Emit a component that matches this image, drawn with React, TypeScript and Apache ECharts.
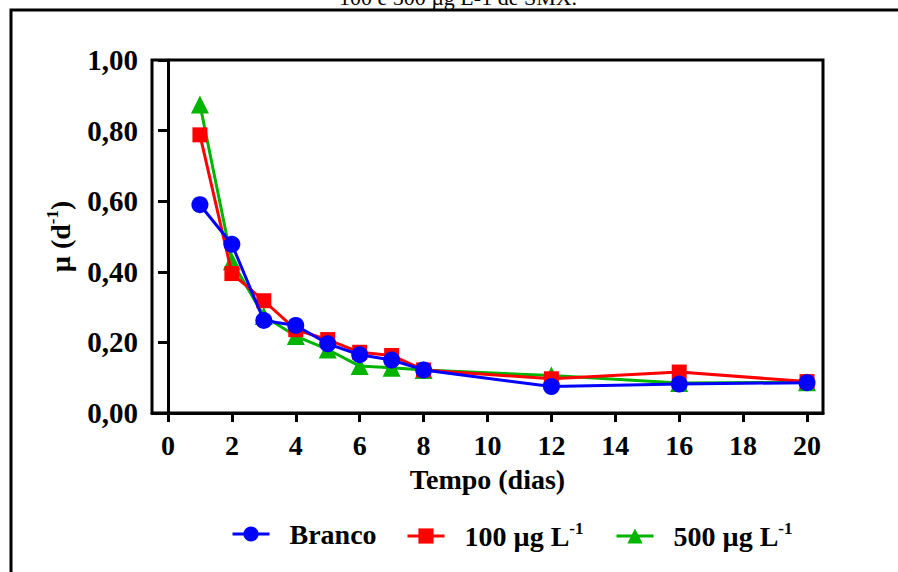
import React, { useEffect, useRef } from 'react';
import * as echarts from 'echarts';

const days = [1, 2, 3, 4, 5, 6, 7, 8, 12, 16, 20];
const branco = [0.59, 0.478, 0.262, 0.248, 0.196, 0.165, 0.15, 0.122, 0.075, 0.082, 0.086];
const c100 = [0.788, 0.395, 0.318, 0.236, 0.208, 0.172, 0.163, 0.122, 0.097, 0.116, 0.089];
const c500 = [0.874, 0.43, 0.275, 0.218, 0.18, 0.133, 0.128, 0.122, 0.106, 0.085, 0.087];
const xTicks = [0, 2, 4, 6, 8, 10, 12, 14, 16, 18, 20];
const seriesNames = ['Branco', '100 µg L-1', '500 µg L-1'];
const legendText = ['{t|Branco}', '{t|100 µg L}{s|-1}', '{t|500 µg L}{s|-1}'];

const FONT = 'Liberation Serif';

export default function App() {
  const ref = useRef<HTMLDivElement>(null);
  useEffect(() => {
    if (!ref.current) return;
    const chart = echarts.init(ref.current, null, { renderer: 'svg' });
    const rich = {
      t: { fontFamily: FONT, fontWeight: 'bold', fontSize: 28, color: '#000', lineHeight: 32 },
      s: { fontFamily: FONT, fontWeight: 'bold', fontSize: 17, color: '#000', verticalAlign: 'top', lineHeight: 32, padding: [0, 0, 12, 0] },
    };
    const legendPos = [231, 406, 615];
    const colors = ['#0000ff', '#ff0000', '#00b400'];
    const symbols = ['circle', 'rect', 'triangle'];
    const sizes = [17, 15, 18];
    const data = [branco, c100, c500];
    chart.setOption({
      animation: false,
      backgroundColor: '#ffffff',
      grid: {
        left: 152, right: 75, top: 60, bottom: 159,
        show: true, borderColor: '#000', borderWidth: 3,
        containLabel: false, outerBoundsMode: 'none',
      },
      legend: seriesNames.map((n, i) => ({
        data: [n],
        left: legendPos[i],
        top: 520,
        padding: 0,
        itemWidth: 37,
        itemHeight: 19,
        lineStyle: { width: 3 },
        formatter: () => legendText[i],
        textStyle: { rich, padding: [0, 0, 0, 15] },
      })),
      xAxis: {
        type: 'value', min: -0.5, max: 20.5,
        name: 'Tempo (dias)', nameLocation: 'middle', nameGap: 52,
        nameTextStyle: { fontFamily: FONT, fontWeight: 'bold', fontSize: 28, color: '#000' },
        axisLine: { show: true, lineStyle: { color: '#000', width: 3 } },
        axisTick: { show: true, length: 9, lineStyle: { color: '#000', width: 3 }, customValues: xTicks },
        axisLabel: { customValues: xTicks, margin: 18, fontFamily: FONT, fontWeight: 'bold', fontSize: 28, color: '#000' },
        splitLine: { show: false },
      },
      yAxis: {
        type: 'value', min: 0, max: 1, interval: 0.2,
        name: '{t|µ (d}{s|-1}{t|)}', nameLocation: 'middle', nameRotate: 90, nameGap: 76,
        nameTextStyle: { rich },
        axisLine: { show: true, lineStyle: { color: '#000', width: 3 } },
        axisTick: { show: true, length: 10, lineStyle: { color: '#000', width: 3 } },
        axisLabel: {
          margin: 14, fontFamily: FONT, fontWeight: 'bold', fontSize: 29, color: '#000',
          formatter: (v: number) => v.toFixed(2).replace('.', ','),
        },
        splitLine: { show: false },
      },
      graphic: [
        {
          type: 'rect', silent: true,
          shape: { x: 11, y: 10, width: 1000, height: 1000 },
          style: { fill: 'none', stroke: '#000', lineWidth: 3 },
        },
        {
          type: 'text', x: 458, y: 8, silent: true,
          style: {
            text: '100 e 500 µg L-1 de SMX.', fontFamily: FONT, fontSize: 22, fill: '#000',
            align: 'center', verticalAlign: 'bottom',
          },
        },
      ],
      series: seriesNames.map((n, i) => ({
        name: n,
        type: 'line',
        data: days.map((d, j) => [d, data[i][j]]),
        symbol: symbols[i],
        symbolSize: sizes[i],
        z: 5 - i,
        lineStyle: { color: colors[i], width: 3 },
        itemStyle: { color: colors[i] },
      })),
    });
    return () => chart.dispose();
  }, []);
  return <div ref={ref} style={{ position: 'fixed', left: 0, top: 0, width: 898, height: 572 }} />;
}
